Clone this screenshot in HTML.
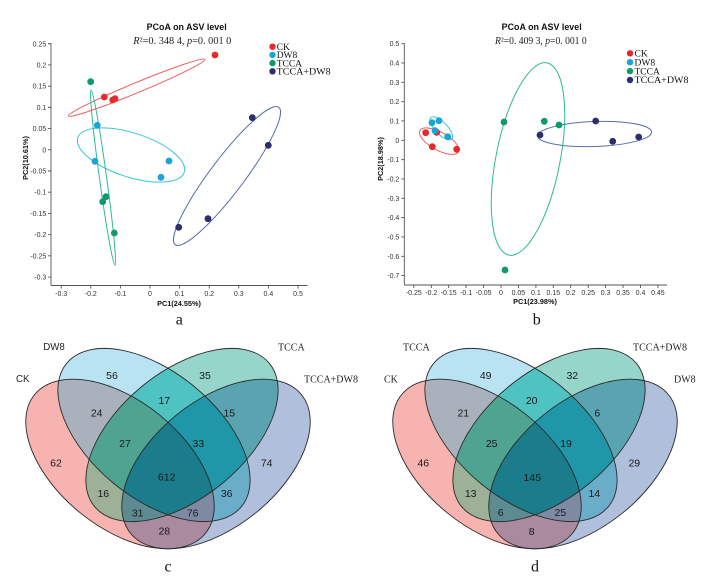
<!DOCTYPE html>
<html><head><meta charset="utf-8"><style>
html,body{margin:0;padding:0;background:#fff;}
svg{display:block;}
.tk{font-family:"Liberation Sans",Arial,sans-serif;font-size:7px;fill:#333;}
.ttl{font-family:"Liberation Sans",Arial,sans-serif;font-size:8.8px;font-weight:bold;fill:#111;}
.axt{font-family:"Liberation Sans",Arial,sans-serif;font-size:7.3px;font-weight:bold;fill:#111;}
.sub{font-family:"Liberation Serif","Times New Roman",serif;font-size:10px;fill:#222;}
.lg{font-family:"Liberation Serif","Times New Roman",serif;font-size:9.5px;fill:#111;}
.pl{font-family:"Liberation Serif","Times New Roman",serif;font-size:16px;fill:#111;}
.vn{font-family:"Liberation Sans",Arial,sans-serif;font-size:10.5px;fill:#1a1a1a;text-anchor:middle;}
.vls{font-family:"Liberation Sans",Arial,sans-serif;font-size:9.7px;fill:#222;}
.vlr{font-family:"Liberation Serif","Times New Roman",serif;font-size:10px;fill:#222;}
</style></head><body>
<svg width="715" height="580" viewBox="0 0 715 580" xmlns="http://www.w3.org/2000/svg">
<defs>
<ellipse id="eL" cx="120" cy="464" rx="110" ry="63" transform="rotate(39 120 464)"/>
<ellipse id="eA" cx="154" cy="435" rx="113" ry="63" transform="rotate(39.3 154 435)"/>
<ellipse id="eB" cx="182" cy="435" rx="113" ry="63" transform="rotate(-39.3 182 435)"/>
<ellipse id="eR" cx="216" cy="464" rx="110" ry="63" transform="rotate(-39 216 464)"/>
<clipPath id="cL"><use href="#eL"/></clipPath>
<clipPath id="cA"><use href="#eA"/></clipPath>
<clipPath id="cB"><use href="#eB"/></clipPath>
<g id="venn">
<use href="#eL" fill="#f6b3b0"/>
<use href="#eA" fill="#b9e3f3"/>
<use href="#eB" fill="#96d5ca"/>
<use href="#eR" fill="#afbfdc"/>
<g clip-path="url(#cL)"><use href="#eA" fill="#a9b2bc"/><use href="#eB" fill="#9cb198"/><use href="#eR" fill="#a98a9f"/></g>
<g clip-path="url(#cA)"><use href="#eB" fill="#4ec3c1"/><use href="#eR" fill="#6aadc8"/></g>
<g clip-path="url(#cB)"><use href="#eR" fill="#5aa3b1"/></g>
<g clip-path="url(#cL)"><g clip-path="url(#cA)"><use href="#eB" fill="#4fa391"/><use href="#eR" fill="#7e8aa1"/></g><g clip-path="url(#cB)"><use href="#eR" fill="#5e8b91"/></g></g>
<g clip-path="url(#cA)"><g clip-path="url(#cB)"><use href="#eR" fill="#1f97a9"/></g></g>
<g clip-path="url(#cL)"><g clip-path="url(#cA)"><g clip-path="url(#cB)"><use href="#eR" fill="#1b7c8b"/></g></g></g>
<g fill="none" stroke="#2a2a2a" stroke-width="0.9"><use href="#eL"/><use href="#eA"/><use href="#eB"/><use href="#eR"/></g>
</g>
</defs>

<!-- ===================== Plot a ===================== -->
<text class="ttl" x="186.7" y="30" text-anchor="middle" textLength="80" lengthAdjust="spacingAndGlyphs">PCoA on ASV level</text>
<text class="sub" x="133.3" y="44.2" textLength="98" lengthAdjust="spacingAndGlyphs"><tspan font-style="italic">R</tspan>²=0. 348  4, <tspan font-style="italic">p</tspan>=0. 001 0</text>
<g stroke="#555" stroke-width="0.9" fill="none">
<line x1="51" y1="43" x2="51" y2="285.5"/>
<line x1="51" y1="285.5" x2="307.5" y2="285.5"/>
<path d="M48 43.75H51M48 64.96H51M48 86.17H51M48 107.38H51M48 128.59H51M48 149.8H51M48 171.01H51M48 192.22H51M48 213.43H51M48 234.64H51M48 255.85H51M48 277.06H51"/>
<path d="M61.2 285.5V288.5M90.8 285.5V288.5M120.4 285.5V288.5M150 285.5V288.5M179.6 285.5V288.5M209.2 285.5V288.5M238.8 285.5V288.5M268.4 285.5V288.5M298 285.5V288.5"/>
</g>
<g class="tk" text-anchor="end">
<text x="46.3" y="46.25">0.25</text><text x="46.3" y="67.46">0.2</text><text x="46.3" y="88.67">0.15</text><text x="46.3" y="109.88">0.1</text><text x="46.3" y="131.09">0.05</text><text x="46.3" y="152.3">0</text><text x="46.3" y="173.51">-0.05</text><text x="46.3" y="194.72">-0.1</text><text x="46.3" y="215.93">-0.15</text><text x="46.3" y="237.14">-0.2</text><text x="46.3" y="258.35">-0.25</text><text x="46.3" y="279.56">-0.3</text>
</g>
<g class="tk" text-anchor="middle">
<text x="61.2" y="295.8">-0.3</text><text x="90.8" y="295.8">-0.2</text><text x="120.4" y="295.8">-0.1</text><text x="150" y="295.8">0</text><text x="179.6" y="295.8">0.1</text><text x="209.2" y="295.8">0.2</text><text x="238.8" y="295.8">0.3</text><text x="268.4" y="295.8">0.4</text><text x="298" y="295.8">0.5</text>
</g>
<text class="axt" x="179" y="305.8" text-anchor="middle">PC1(24.55%)</text>
<text class="axt" transform="translate(28 158) rotate(-90)" text-anchor="middle">PC2(10.61%)</text>
<g fill="none" stroke-width="1">
<ellipse cx="136.7" cy="87.7" rx="74" ry="5" transform="rotate(-22.5 136.7 87.7)" stroke="#ef5f5f"/>
<ellipse cx="131" cy="155" rx="56" ry="22" transform="rotate(18 131 155)" stroke="#3cc6d6"/>
<ellipse cx="103" cy="177.5" rx="88.5" ry="3.6" transform="rotate(82.2 103 177.5)" stroke="#2dba97"/>
<ellipse cx="227" cy="176" rx="86" ry="17" transform="rotate(-53 227 176)" stroke="#5a6fa8"/>
</g>
<g fill="#e52a2d"><circle cx="215" cy="55" r="3.4"/><circle cx="104.3" cy="97" r="3.4"/><circle cx="112.7" cy="100" r="3.4"/><circle cx="115" cy="98.7" r="3.4"/></g>
<g fill="#1ba4d6"><circle cx="97.3" cy="125.3" r="3.4"/><circle cx="95" cy="161.3" r="3.4"/><circle cx="169" cy="161" r="3.4"/><circle cx="161" cy="177.3" r="3.4"/></g>
<g fill="#109a6a"><circle cx="90.7" cy="81.7" r="3.4"/><circle cx="106" cy="196.7" r="3.4"/><circle cx="102.7" cy="201.7" r="3.4"/><circle cx="114.3" cy="233" r="3.4"/></g>
<g fill="#2c2e6e"><circle cx="252.3" cy="117.7" r="3.4"/><circle cx="268.3" cy="145.3" r="3.4"/><circle cx="178.7" cy="227.3" r="3.4"/><circle cx="208" cy="218.7" r="3.4"/></g>
<circle cx="272.5" cy="46.7" r="3.2" fill="#e52a2d"/><circle cx="272.5" cy="54.9" r="3.2" fill="#1ba4d6"/><circle cx="272.5" cy="63.1" r="3.2" fill="#109a6a"/><circle cx="272.5" cy="71.3" r="3.2" fill="#2c2e6e"/>
<g class="lg"><text x="276.7" y="49.9">CK</text><text x="276.7" y="58.1">DW8</text><text x="276.7" y="66.3">TCCA</text><text x="276.7" y="74.5" textLength="54" lengthAdjust="spacingAndGlyphs">TCCA+DW8</text></g>
<text class="pl" x="179.3" y="324.5" text-anchor="middle">a</text>

<!-- ===================== Plot b ===================== -->
<text class="ttl" x="541.7" y="30" text-anchor="middle" textLength="80" lengthAdjust="spacingAndGlyphs">PCoA on ASV level</text>
<text class="sub" x="495" y="44.2" textLength="91.7" lengthAdjust="spacingAndGlyphs"><tspan font-style="italic">R</tspan>²=0. 409 3, <tspan font-style="italic">p</tspan>=0. 001 0</text>
<g stroke="#555" stroke-width="0.9" fill="none">
<line x1="404.3" y1="43" x2="404.3" y2="285"/>
<line x1="404.3" y1="285" x2="667" y2="285"/>
<path d="M401.3 43.65H404.3M401.3 62.98H404.3M401.3 82.31H404.3M401.3 101.64H404.3M401.3 120.97H404.3M401.3 140.3H404.3M401.3 159.63H404.3M401.3 178.96H404.3M401.3 198.29H404.3M401.3 217.62H404.3M401.3 236.95H404.3M401.3 256.28H404.3M401.3 275.61H404.3"/>
<path d="M413.8 285V288M431.3 285V288M448.7 285V288M466.1 285V288M483.6 285V288M501 285V288M518.4 285V288M535.9 285V288M553.3 285V288M570.7 285V288M588.2 285V288M605.6 285V288M623 285V288M640.5 285V288M657.9 285V288"/>
</g>
<g class="tk" text-anchor="end">
<text x="399.3" y="46.15">0.5</text><text x="399.3" y="65.48">0.4</text><text x="399.3" y="84.81">0.3</text><text x="399.3" y="104.14">0.2</text><text x="399.3" y="123.47">0.1</text><text x="399.3" y="142.8">0</text><text x="399.3" y="162.13">-0.1</text><text x="399.3" y="181.46">-0.2</text><text x="399.3" y="200.79">-0.3</text><text x="399.3" y="220.12">-0.4</text><text x="399.3" y="239.45">-0.5</text><text x="399.3" y="258.78">-0.6</text><text x="399.3" y="278.11">-0.7</text>
</g>
<g class="tk" text-anchor="middle">
<text x="413.8" y="295">-0.25</text><text x="431.3" y="295">-0.2</text><text x="448.7" y="295">-0.15</text><text x="466.1" y="295">-0.1</text><text x="483.6" y="295">-0.05</text><text x="501" y="295">0</text><text x="518.4" y="295">0.05</text><text x="535.9" y="295">0.1</text><text x="553.3" y="295">0.15</text><text x="570.7" y="295">0.2</text><text x="588.2" y="295">0.25</text><text x="605.6" y="295">0.3</text><text x="623" y="295">0.35</text><text x="640.5" y="295">0.4</text><text x="657.9" y="295">0.45</text>
</g>
<text class="axt" x="535" y="304" text-anchor="middle">PC1(23.98%)</text>
<text class="axt" transform="translate(383 159) rotate(-90)" text-anchor="middle">PC2(18.98%)</text>
<g fill="none" stroke-width="1">
<ellipse cx="439.2" cy="141.2" rx="22" ry="9" transform="rotate(29 439.2 141.2)" stroke="#ef5f5f"/>
<ellipse cx="441.3" cy="128.3" rx="15" ry="6" transform="rotate(46 441.3 128.3)" stroke="#3cc6d6"/>
<ellipse cx="528" cy="159" rx="98" ry="32" transform="rotate(-78.8 528 159)" stroke="#2dba97"/>
<ellipse cx="594.7" cy="134" rx="57" ry="12.5" transform="rotate(-2 594.7 134)" stroke="#5a6fa8"/>
</g>
<g fill="#e52a2d"><circle cx="425.7" cy="132.7" r="3.4"/><circle cx="432.3" cy="146.7" r="3.4"/><circle cx="436.7" cy="132.3" r="3.4"/><circle cx="456.7" cy="149.3" r="3.4"/></g>
<g fill="#1ba4d6"><circle cx="432" cy="122.7" r="3.4"/><circle cx="439" cy="120.7" r="3.4"/><circle cx="435" cy="130.7" r="3.4"/><circle cx="447.7" cy="136.7" r="3.4"/></g>
<g fill="#109a6a"><circle cx="504" cy="122" r="3.4"/><circle cx="544.3" cy="121.3" r="3.4"/><circle cx="559" cy="125" r="3.4"/><circle cx="505" cy="270" r="3.4"/></g>
<g fill="#2c2e6e"><circle cx="540" cy="135" r="3.4"/><circle cx="595.7" cy="121" r="3.4"/><circle cx="612.7" cy="141.3" r="3.4"/><circle cx="638.7" cy="137" r="3.4"/></g>
<circle cx="630" cy="53.3" r="3.2" fill="#e52a2d"/><circle cx="630" cy="62.2" r="3.2" fill="#1ba4d6"/><circle cx="630" cy="71.1" r="3.2" fill="#109a6a"/><circle cx="630" cy="80" r="3.2" fill="#2c2e6e"/>
<g class="lg"><text x="634.5" y="56.5">CK</text><text x="634.5" y="65.4">DW8</text><text x="634.5" y="74.3">TCCA</text><text x="634.5" y="83.2" textLength="54" lengthAdjust="spacingAndGlyphs">TCCA+DW8</text></g>
<text class="pl" x="536.7" y="324.5" text-anchor="middle">b</text>

<!-- ===================== Venn c ===================== -->
<use href="#venn"/>
<text class="vls" x="43.3" y="350.2">DW8</text>
<text class="vls" x="16" y="381.8">CK</text>
<text class="vlr" x="278" y="350.5">TCCA</text>
<text class="vlr" x="304" y="382.5">TCCA+DW8</text>
<g class="vn">
<text x="112" y="378.8">56</text><text x="205" y="378.8">35</text>
<text x="96.7" y="416.5">24</text><text x="164.3" y="403.8">17</text><text x="229.3" y="416.5">15</text>
<text x="125" y="447.1">27</text><text x="198.3" y="447.1">33</text>
<text x="56" y="466.5">62</text><text x="266.7" y="466.5">74</text>
<text x="166.7" y="480.5">612</text>
<text x="103.3" y="497.1">16</text><text x="226.7" y="497.1">36</text>
<text x="137.7" y="516.5">31</text><text x="192.7" y="516.5">76</text>
<text x="164.3" y="534.5">28</text>
</g>
<text class="pl" x="168" y="571.5" text-anchor="middle">c</text>

<!-- ===================== Venn d ===================== -->
<use href="#venn" transform="translate(367 0)"/>
<text class="vlr" x="403" y="350.5">TCCA</text>
<text class="vlr" x="384" y="382.5">CK</text>
<text class="vlr" x="633" y="350.5">TCCA+DW8</text>
<text class="vlr" x="674" y="382.5">DW8</text>
<g class="vn">
<text x="485.7" y="378.8">49</text><text x="572.3" y="378.8">32</text>
<text x="463.3" y="416.5">21</text><text x="531.7" y="403.8">20</text><text x="597.3" y="416.5">6</text>
<text x="491.7" y="447.1">25</text><text x="566" y="447.1">19</text>
<text x="423.3" y="466.5">46</text><text x="634.3" y="466.5">29</text>
<text x="532.3" y="481.1">145</text>
<text x="470.7" y="497.1">13</text><text x="594.3" y="497.1">14</text>
<text x="500.7" y="516.1">6</text><text x="560.3" y="516.1">25</text>
<text x="531.7" y="534.8">8</text>
</g>
<text class="pl" x="535" y="571.5" text-anchor="middle">d</text>
</svg>
</body></html>
